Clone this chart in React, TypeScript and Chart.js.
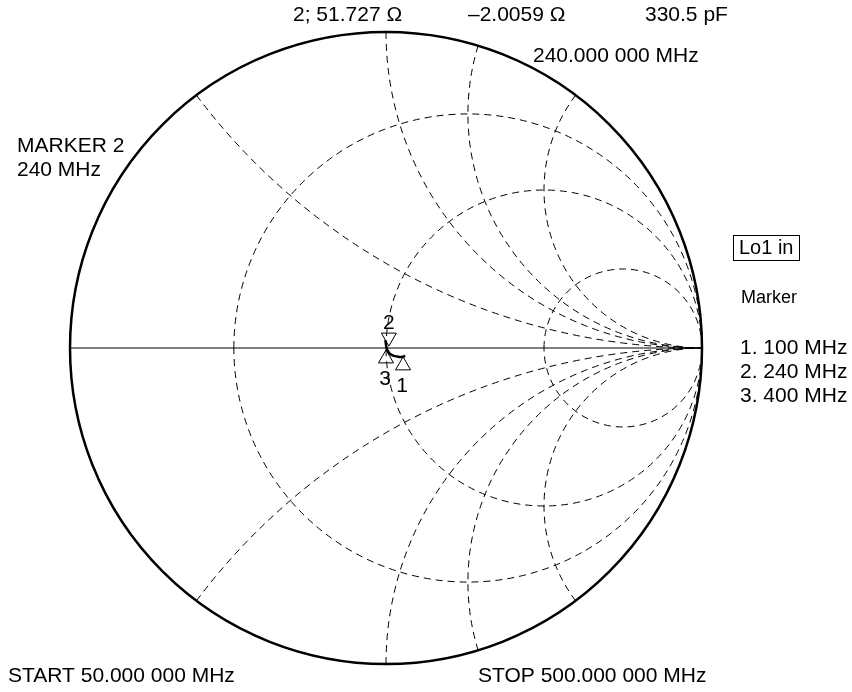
import React, { useEffect, useRef } from "react";
import { Chart, registerables } from "chart.js";

Chart.register(...registerables);

// ---- data ----
const resistanceCircles = [0.35, 1, 3];
const reactanceArcs = [0.5, 1, 1.35, 2, -0.5, -1, -1.35, -2];
// trace (reflection coefficient, real / imag), 50 MHz .. 500 MHz
const traceRe = [0.06, 0.054, 0.04, 0.025, 0.012, 0.005, 0.002, 0.0, -0.002];
const traceIm = [-0.024, -0.028, -0.028, -0.025, -0.018, -0.008, 0.0, 0.01, 0.025];
const markerNames = ["1", "2", "3"];
const markerRe = [0.054, 0.009, 0.0];
const markerIm = [-0.028, 0.006, -0.006];
const markerDown = [false, true, false];
const markerLegend = ["1. 100 MHz", "2. 240 MHz", "3. 400 MHz"];
const topLabels = ["2; 51.727 \u03a9", "\u20132.0059 \u03a9", "330.5 pF"];
const freqLabel = "240.000 000 MHz";
const markerInfo = ["MARKER 2", "240 MHz"];
const startLabel = "START 50.000 000 MHz";
const stopLabel = "STOP 500.000 000 MHz";
const traceName = "Lo1 in";

const FAMILY = "'Liberation Sans', Arial, sans-serif";
const FONT = "21px " + FAMILY;

const smithPlugin = {
  id: "smith",
  beforeDatasetsDraw(chart: any) {
    const ctx = chart.ctx;
    const xs = chart.scales.x;
    const ys = chart.scales.y;
    const px = (v: number) => xs.getPixelForValue(v);
    const py = (v: number) => ys.getPixelForValue(v);
    const ux = px(1) - px(0);
    const uy = py(0) - py(1);
    ctx.save();
    ctx.strokeStyle = "#000";
    ctx.lineWidth = 1;
    ctx.setLineDash([7, 5]);
    for (const r of resistanceCircles) {
      const c = r / (r + 1);
      const rad = 1 / (r + 1);
      ctx.beginPath();
      ctx.ellipse(px(c), py(0), rad * ux, rad * uy, 0, Math.PI, Math.PI * 3, false);
      ctx.stroke();
    }
    for (const x of reactanceArcs) {
      const cyv = 1 / x;
      const rad = 1 / Math.abs(x);
      const ex = (x * x - 1) / (x * x + 1);
      const ey = (2 * x) / (x * x + 1);
      const cx = px(1);
      const cy = py(cyv);
      const a0 = Math.atan2((py(ey) - cy) / uy, (px(ex) - cx) / ux);
      const a1 = x > 0 ? Math.PI / 2 : -Math.PI / 2;
      ctx.beginPath();
      ctx.ellipse(cx, cy, rad * ux, rad * uy, 0, a0, a1, x > 0);
      ctx.stroke();
    }
    ctx.setLineDash([]);
    ctx.beginPath();
    ctx.moveTo(px(-1), py(0));
    ctx.lineTo(px(1), py(0));
    ctx.stroke();
    ctx.lineWidth = 2.5;
    ctx.beginPath();
    ctx.ellipse(px(0), py(0), ux, uy, 0, 0, Math.PI * 2);
    ctx.stroke();
    ctx.restore();
  },
  afterDatasetsDraw(chart: any) {
    const ctx = chart.ctx;
    const xs = chart.scales.x;
    const ys = chart.scales.y;
    const px = (v: number) => xs.getPixelForValue(v);
    const py = (v: number) => ys.getPixelForValue(v);
    ctx.save();
    ctx.strokeStyle = "#000";
    ctx.fillStyle = "#000";
    ctx.lineWidth = 1;
    ctx.font = FONT;
    ctx.textBaseline = "middle";
    const h = 13;
    const w = 15;
    markerNames.forEach((n, i) => {
      const x0 = px(markerRe[i]);
      const y0 = py(markerIm[i]);
      ctx.beginPath();
      if (markerDown[i]) {
        ctx.moveTo(x0, y0);
        ctx.lineTo(x0 - w / 2, y0 - h);
        ctx.lineTo(x0 + w / 2, y0 - h);
      } else {
        ctx.moveTo(x0, y0);
        ctx.lineTo(x0 - w / 2, y0 + h);
        ctx.lineTo(x0 + w / 2, y0 + h);
      }
      ctx.closePath();
      ctx.stroke();
      ctx.textAlign = "center";
      if (markerDown[i]) ctx.fillText(n, x0, y0 - h - 10);
      else ctx.fillText(n, x0 - 1, y0 + h + 16);
    });
    ctx.textAlign = "left";
    ctx.fillText(topLabels[0], 293, 15);
    ctx.fillText(topLabels[1], 468, 15);
    ctx.fillText(topLabels[2], 645, 15);
    ctx.fillText(freqLabel, 533, 56);
    ctx.fillText(markerInfo[0], 17, 146);
    ctx.fillText(markerInfo[1], 17, 170);
    ctx.fillText(startLabel, 8, 676);
    ctx.fillText(stopLabel, 478, 676);
    ctx.strokeRect(733.5, 235.5, 66, 25);
    ctx.font = "20px " + FAMILY;
    ctx.fillText(traceName, 739, 248);
    ctx.font = "18px " + FAMILY;
    ctx.fillText("Marker", 741, 298);
    ctx.font = FONT;
    markerLegend.forEach((t, i) => ctx.fillText(t, 740, 348 + i * 24));
    ctx.restore();
  },
};

export default function App() {
  const ref = useRef<HTMLCanvasElement | null>(null);
  useEffect(() => {
    if (!ref.current) return;
    const cxp = 386, cyp = 348, R = 316;
    const chart = new Chart(ref.current, {
      type: "scatter",
      data: {
        datasets: [
          {
            data: traceRe.map((v, i) => ({ x: v, y: traceIm[i] })),
            showLine: true,
            borderColor: "#000",
            borderWidth: 2.5,
            pointRadius: 0,
            tension: 0.4,
            fill: false,
          },
        ],
      },
      options: {
        responsive: false,
        animation: false,
        events: [],
        layout: { padding: 0 },
        plugins: { legend: { display: false }, tooltip: { enabled: false } },
        scales: {
          x: { type: "linear", display: false, min: -cxp / R, max: (852 - cxp) / R },
          y: { type: "linear", display: false, min: -(692 - cyp) / R, max: cyp / R },
        },
      },
      plugins: [smithPlugin],
    });
    return () => chart.destroy();
  }, []);
  return (
    <div style={{ position: "fixed", left: 0, top: 0, width: 852, height: 692, background: "#fff" }}>
      <canvas ref={ref} width={852} height={692} style={{ width: 852, height: 692 }} />
    </div>
  );
}
